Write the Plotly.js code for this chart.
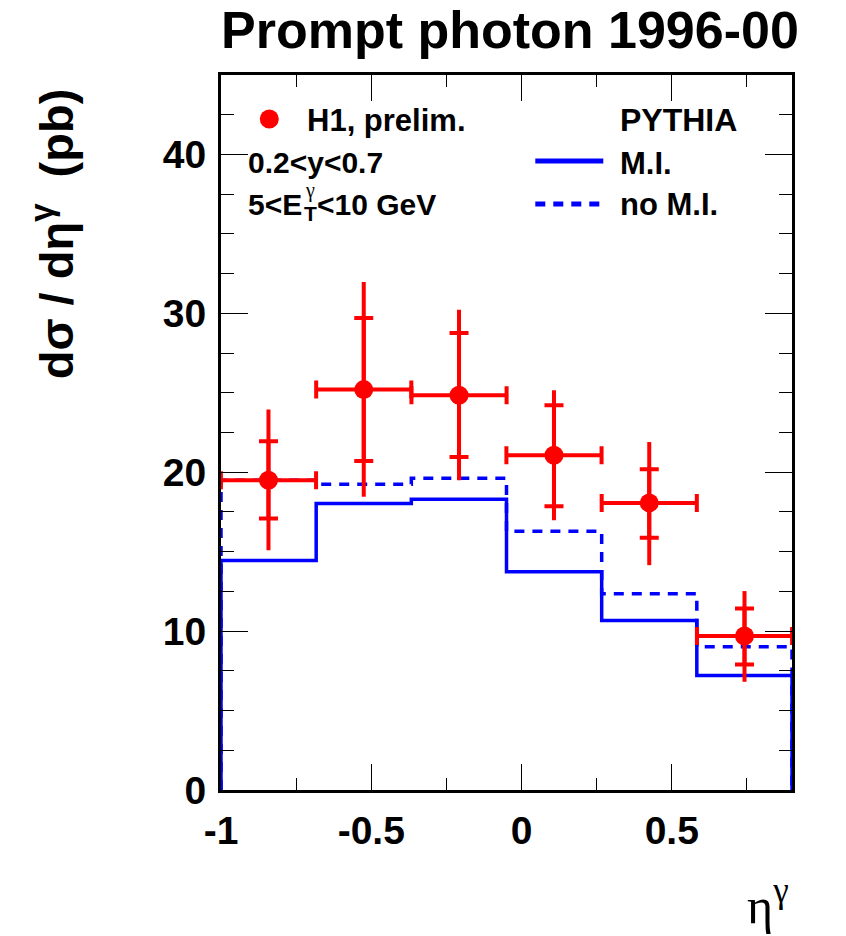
<!DOCTYPE html>
<html>
<head>
<meta charset="utf-8">
<script src="https://cdn.plot.ly/plotly-3.0.1.min.js"></script>
<style>html,body{margin:0;padding:0;background:#fff;}#plot{width:846px;height:936px;}</style>
</head>
<body>
<div id="plot"></div>
<script>
// ---- data ----
const binEdges = [-1, -0.6833, -0.3667, -0.05, 0.2667, 0.5833, 0.9];
const binCenters = [-0.842, -0.525, -0.208, 0.108, 0.425, 0.742];
const binHalfWidth = [0.1583, 0.1583, 0.1583, 0.1583, 0.1583, 0.1583];
const h1Values = [19.5, 25.2, 24.85, 21.07, 18.07, 9.69];
const statUp = [2.45, 4.5, 3.91, 3.14, 2.12, 1.74];
const statDown = [2.41, 4.49, 3.89, 3.21, 2.2, 1.79];
const totUp = [4.44, 6.77, 5.38, 4.09, 3.83, 2.83];
const totDown = [4.41, 6.75, 5.35, 4.09, 3.92, 2.88];
const pythiaMI = [14.45, 18.03, 18.3, 13.73, 10.67, 7.21];
const pythiaNoMI = [19.5, 19.25, 19.62, 16.29, 12.35, 9.01];
const xTickVals = [-1, -0.5, 0, 0.5];
const xTickText = ['-1', '-0.5', '0', '0.5'];
const yTickVals = [0, 10, 20, 30, 40];
const yTickText = ['0', '10', '20', '30', '40'];

// step histogram helper: starts and ends at zero
function stepXY(edges, vals) {
  const x = [edges[0]], y = [0];
  for (let i = 0; i < vals.length; i++) { x.push(edges[i]); y.push(vals[i]); }
  x.push(edges[edges.length - 1]); y.push(vals[vals.length - 1]);
  x.push(edges[edges.length - 1]); y.push(0);
  return {x, y};
}
const mi = stepXY(binEdges, pythiaMI);
const nomi = stepXY(binEdges, pythiaNoMI);

const RED = '#ff0000', BLUE = '#0000ff';
const SANS = 'Liberation Sans, Arial, Helvetica, sans-serif';
const SERIF = 'Liberation Serif, Times New Roman, serif';

const traces = [
  {x: nomi.x, y: nomi.y, mode: 'lines', line: {shape: 'hv', color: BLUE, width: 3.5, dash: '10px,8px'}, hoverinfo: 'skip', showlegend: false},
  {x: mi.x, y: mi.y, mode: 'lines', line: {shape: 'hv', color: BLUE, width: 3.5}, hoverinfo: 'skip', showlegend: false},
  {x: binCenters, y: h1Values, mode: 'markers', marker: {size: 0.1, color: RED},
   error_y: {type: 'data', symmetric: false, array: statUp, arrayminus: statDown, color: RED, thickness: 4, width: 9.5},
   showlegend: false, hoverinfo: 'skip'},
  {x: binCenters, y: h1Values, mode: 'markers', marker: {size: 19, color: RED},
   error_y: {type: 'data', symmetric: false, array: totUp, arrayminus: totDown, color: RED, thickness: 4, width: 0},
   error_x: {type: 'data', array: binHalfWidth, color: RED, thickness: 4, width: 9},
   showlegend: false}
];

// plot area in px
const L = 220.7, R = 791.7, T = 75, B = 790;
const px = v => (v - L) / (R - L);
const py = v => (B - v) / (B - T);

const boldFont = (size) => ({family: SANS, size: size, color: '#000', weight: 'bold'});

const annotations = [
  {text: 'Prompt photon 1996-00', x: px(219), y: py(30), xref: 'paper', yref: 'paper', xanchor: 'left', yanchor: 'middle', showarrow: false, font: boldFont(52)},
  {text: 'dσ / dη<sup>γ</sup>  (pb)', x: px(53), y: py(234), xref: 'paper', yref: 'paper', xanchor: 'center', yanchor: 'middle', textangle: -90, showarrow: false, font: boldFont(47)},
  {text: 'η<sup>γ</sup>', x: px(768), y: py(902), xref: 'paper', yref: 'paper', xanchor: 'center', yanchor: 'middle', showarrow: false, font: {family: SERIF, size: 50, color: '#000'}},
  {text: 'H1, prelim.', x: px(305), y: py(121), xref: 'paper', yref: 'paper', xanchor: 'left', yanchor: 'middle', showarrow: false, font: boldFont(31)},
  {text: '0.2&lt;y&lt;0.7', x: px(246), y: py(162), xref: 'paper', yref: 'paper', xanchor: 'left', yanchor: 'middle', showarrow: false, font: boldFont(30)},
  {text: '5&lt;E', x: px(246), y: py(205), xref: 'paper', yref: 'paper', xanchor: 'left', yanchor: 'middle', showarrow: false, font: boldFont(30)},
  {text: 'γ', x: px(310), y: py(191), xref: 'paper', yref: 'paper', xanchor: 'center', yanchor: 'middle', showarrow: false, font: {family: SERIF, size: 20, color: '#000'}},
  {text: 'T', x: px(310), y: py(214), xref: 'paper', yref: 'paper', xanchor: 'center', yanchor: 'middle', showarrow: false, font: boldFont(21)},
  {text: '&lt;10 GeV', x: px(315), y: py(205), xref: 'paper', yref: 'paper', xanchor: 'left', yanchor: 'middle', showarrow: false, font: boldFont(30)},
  {text: 'PYTHIA', x: px(618), y: py(120), xref: 'paper', yref: 'paper', xanchor: 'left', yanchor: 'middle', showarrow: false, font: boldFont(32)},
  {text: 'M.I.', x: px(618), y: py(163), xref: 'paper', yref: 'paper', xanchor: 'left', yanchor: 'middle', showarrow: false, font: boldFont(31)},
  {text: 'no M.I.', x: px(618), y: py(205), xref: 'paper', yref: 'paper', xanchor: 'left', yanchor: 'middle', showarrow: false, font: boldFont(31)}
];

const shapes = [
  {type: 'circle', xref: 'paper', yref: 'paper', xsizemode: 'pixel', ysizemode: 'pixel', xanchor: px(269), yanchor: py(119), x0: -9.5, x1: 9.5, y0: -9.5, y1: 9.5, fillcolor: RED, line: {width: 0}},
  {type: 'line', xref: 'paper', yref: 'paper', x0: px(535), x1: px(603), y0: py(161), y1: py(161), line: {color: BLUE, width: 5}},
  {type: 'line', xref: 'paper', yref: 'paper', x0: px(535), x1: px(603), y0: py(204), y1: py(204), line: {color: BLUE, width: 5, dash: '10px,8px'}}
];

const layout = {
  width: 846, height: 936,
  margin: {l: 220.7, r: 846 - 791.7, t: 75, b: 146, pad: 0},
  paper_bgcolor: '#fff', plot_bgcolor: '#fff',
  showlegend: false,
  xaxis: {
    range: [-1, 0.9], showgrid: false, zeroline: false,
    showline: true, linecolor: '#000', linewidth: 3, mirror: 'allticks',
    ticks: 'inside', ticklen: 26, tickwidth: 1, tickcolor: '#000',
    tickvals: xTickVals, ticktext: xTickText,
    tickfont: boldFont(39), ticklabelstandoff: 4,
    minor: {ticks: 'inside', dtick: 0.25, tick0: -1, ticklen: 12, tickwidth: 1, tickcolor: '#000', showgrid: false}
  },
  yaxis: {
    range: [0, 45], showgrid: false, zeroline: false,
    showline: true, linecolor: '#000', linewidth: 3, mirror: 'allticks',
    ticks: 'inside', ticklen: 27, tickwidth: 1, tickcolor: '#000',
    tickvals: yTickVals, ticktext: yTickText,
    tickfont: boldFont(39), ticklabelstandoff: 4,
    minor: {ticks: 'inside', dtick: 2.5, tick0: 0, ticklen: 13, tickwidth: 1, tickcolor: '#000', showgrid: false}
  },
  annotations: annotations,
  shapes: shapes
};

Plotly.newPlot('plot', traces, layout, {displayModeBar: false, staticPlot: true});
</script>
</body>
</html>
